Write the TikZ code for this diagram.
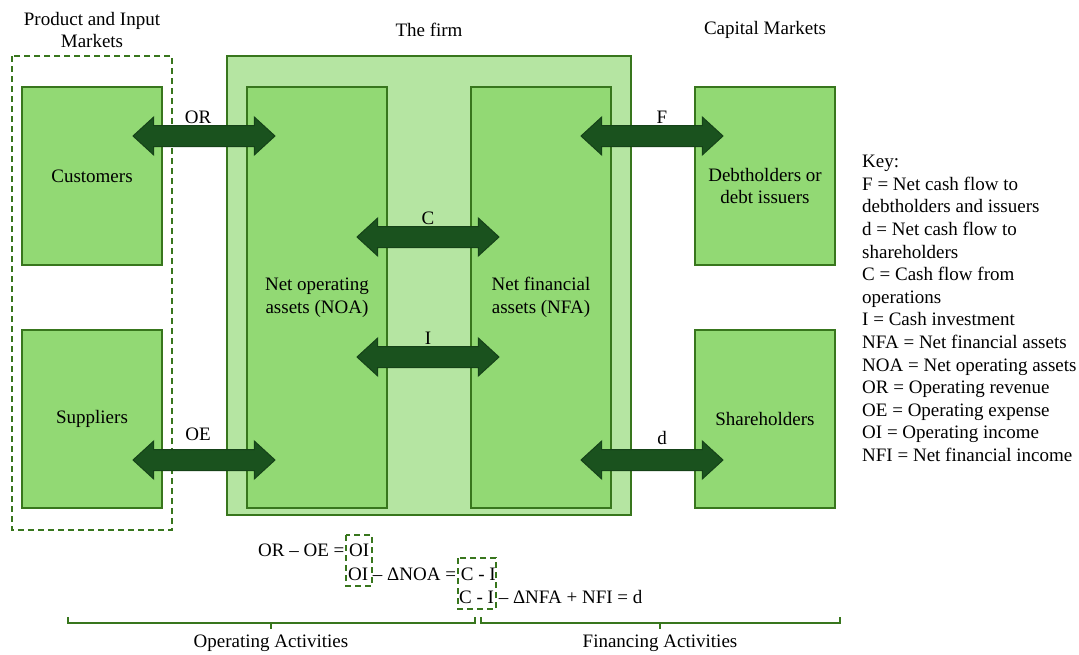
\documentclass[tikz,border=0pt]{standalone}
\usepackage{fontspec}
\setmainfont{Liberation Serif}[Ligatures=TeX]
\usetikzlibrary{shapes.arrows}
\definecolor{boxgreen}{RGB}{146,217,116}
\definecolor{firmgreen}{RGB}{181,229,162}
\definecolor{edgegreen}{RGB}{56,118,29}
\definecolor{arrowgreen}{RGB}{26,82,30}
\tikzset{
  txt/.style={font=\rmfamily\fontsize{19}{22.6}\selectfont, align=center},
  party/.style={draw=edgegreen, line width=1.5pt, fill=boxgreen, minimum width=140pt, minimum height=178pt, inner sep=0pt, txt},
  flow/.style={double arrow, draw=arrowgreen!80!black, fill=arrowgreen, line width=1pt, minimum height=142pt, minimum width=37pt, double arrow head extend=8.5pt, double arrow tip angle=85, inner xsep=0pt, inner ysep=10pt},
  dashbox/.style={draw=edgegreen, dash pattern=on 6pt off 4pt, line width=1.5pt},
  bracket/.style={draw=edgegreen, line width=1.5pt}
}
\begin{document}
\begin{tikzpicture}[x=1pt,y=-1pt]
\useasboundingbox (0,0) rectangle (1079,654);

\draw[dashbox] (12,56) rectangle (172,530);
\node[party] (cust) at (92,176) {Customers};
\node[party] (supp) at (92,419) {Suppliers};
\node[draw=edgegreen, line width=1.5pt, fill=firmgreen, minimum width=404pt, minimum height=459pt] (firm) at (429,285.5) {};
\node[party, minimum height=421pt] (noa) at (317,297.5) {Net operating\\assets (NOA)};
\node[party, minimum height=421pt] (nfa) at (541,297.5) {Net financial\\assets (NFA)};
\node[party] (debt) at (765,176) {};
\node[txt] (debtlab) at (765,186) {Debtholders or\\debt issuers};
\node[party] (share) at (765,419) {Shareholders};

\node[flow] (or) at (204,136) {};
\node[flow] (oe) at (204,460) {};
\node[flow] (c) at (428,237) {};
\node[flow] (i) at (428,357) {};
\node[flow] (f) at (652,136) {};
\node[flow] (d) at (652,460) {};

\node[txt] (orlab) at (198,117) {OR};
\node[txt] (oelab) at (198,434) {OE};
\node[txt] (clab) at (428,218) {C};
\node[txt] (ilab) at (428,338) {I};
\node[txt] (flab) at (662,117) {F};
\node[txt] (dlab) at (662,438) {d};

\node[txt] (pim) at (92,30) {Product and Input\\Markets};
\node[txt] (firmt) at (429,30) {The firm};
\node[txt] (capm) at (765,30) {Capital Markets};

\node[txt, align=left, anchor=north west, inner sep=0pt] (key) at (862,155) {Key:\\F = Net cash flow to\\debtholders and issuers\\d = Net cash flow to\\shareholders\\C = Cash flow from\\operations\\I = Cash investment\\NFA = Net financial assets\\NOA = Net operating assets\\OR = Operating revenue\\OE = Operating expense\\OI = Operating income\\NFI = Net financial income};

\node[txt, anchor=base west, inner sep=0pt] (eqa) at (258,556) {OR – OE = OI};
\node[txt, anchor=base west, inner sep=0pt] (eqb) at (348,580) {OI – ΔNOA = C - I};
\node[txt, anchor=base west, inner sep=0pt] (eqc) at (459,603) {C - I – ΔNFA + NFI = d};
\draw[dashbox] (346,535) rectangle (372,586);
\draw[dashbox] (458,558) rectangle (496,609);

\draw[bracket] (68,617) |- (475,623) -- (475,617);
\draw[bracket] (271,623) -- (271,629);
\draw[bracket] (481,617) |- (840,623) -- (840,617);
\draw[bracket] (660,623) -- (660,629);
\node[txt] (oplab) at (271,643) {Operating Activities};
\node[txt] (finlab) at (660,643) {Financing Activities};

\end{tikzpicture}
\end{document}
